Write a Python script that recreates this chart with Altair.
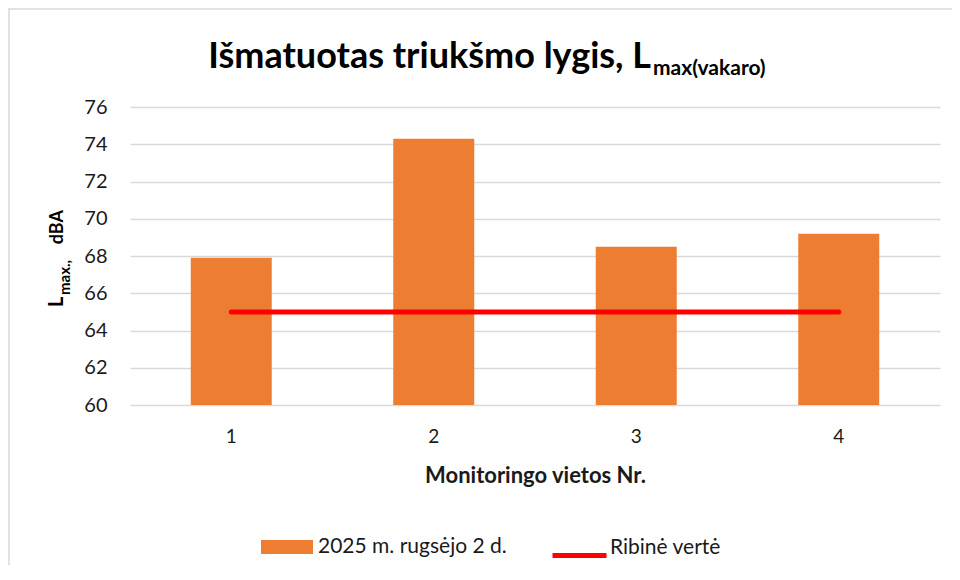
import altair as alt
import pandas as pd

# ---- data ----
sites = ["1", "2", "3", "4"]
measured = [67.9, 74.3, 68.5, 69.2]
limit = [65, 65, 65, 65]
series_bar = "2025 m. rugsėjo 2 d."
series_line = "Ribinė vertė"
y_ticks = [60, 62, 64, 66, 68, 70, 72, 74, 76]
title_main = ["Išmatuotas triukšmo lygis, L"]
title_sub = ["max(vakaro)"]
ytitle_main = ["L"]
ytitle_sub = ["max.,"]
ytitle_unit = ["dBA"]
xtitle = "Monitoringo vietos Nr."

FONT = "Lato"
TXT = "#1a1a1a"
W, H = 810, 298

bars_df = pd.DataFrame({"site": sites, "value": measured, "series": [series_bar] * len(sites)})
line_df = pd.DataFrame({"site": sites, "value": limit, "series": [series_line] * len(sites)})

x_enc = alt.X(
    "site:N", sort=sites,
    scale=alt.Scale(paddingInner=0.6, paddingOuter=0.3),
    axis=alt.Axis(title=xtitle, labelAngle=0, domain=False, ticks=False,
                  labelPadding=22, labelFont=FONT, labelFontSize=19, labelColor=TXT,
                  titleFont=FONT, titleFontSize=22, titleFontWeight="bold", titleColor=TXT,
                  titlePadding=19),
)
y_enc = alt.Y(
    "value:Q",
    scale=alt.Scale(domain=[60, 76], nice=False, zero=False),
    axis=alt.Axis(values=y_ticks, title=None, domain=False, ticks=False,
                  labelPadding=23, labelFont=FONT, labelFontSize=20, labelColor=TXT,
                  gridColor="#d9d9d9", gridWidth=1.5),
)

bars = alt.Chart(bars_df).mark_bar(color="#ED7D31", clip=True).encode(
    x=x_enc, y=y_enc,
    fill=alt.Fill("series:N", scale=alt.Scale(domain=[series_bar], range=["#ED7D31"]),
                  legend=alt.Legend(title=None, orient="none", legendX=131, legendY=414,
                                    symbolType="M-1,-0.27H1V0.27H-1Z", symbolSize=2704,
                                    symbolStrokeWidth=0, labelLimit=400,
                                    labelFont=FONT, labelFontSize=21, labelColor=TXT,
                                    labelOffset=5)),
)

line = alt.Chart(line_df).mark_line(strokeWidth=5, strokeCap="round").encode(
    x=x_enc, y=y_enc,
    stroke=alt.Stroke("series:N", scale=alt.Scale(domain=[series_line], range=["#FF0000"]),
                      legend=alt.Legend(title=None, orient="none", legendX=420, legendY=411,
                                        symbolType="M-1,0.3L1,0.3", symbolSize=2916,
                                        symbolStrokeWidth=5, labelLimit=400,
                                        labelFont=FONT, labelFontSize=21, labelColor=TXT,
                                        labelOffset=1)),
)

one = pd.DataFrame({"k": [0]})
border_v = alt.Chart(one).mark_rule(color="#d9d9d9", strokeWidth=1.5).encode(
    x=alt.value(-121), y=alt.value(-99), y2=alt.value(480))
border_h = alt.Chart(one).mark_rule(color="#d9d9d9", strokeWidth=1.5).encode(
    x=alt.value(-121), x2=alt.value(830), y=alt.value(-98))

t_main = alt.Chart(pd.DataFrame({"t": title_main})).mark_text(
    align="right", baseline="alphabetic", font=FONT, fontSize=36, fontWeight="bold", color="#000"
).encode(text="t:N", x=alt.value(521), y=alt.value(-39))
t_sub = alt.Chart(pd.DataFrame({"t": title_sub})).mark_text(
    align="left", baseline="alphabetic", font=FONT, fontSize=21, fontWeight="bold", color="#000"
).encode(text="t:N", x=alt.value(523), y=alt.value(-32))

y_l = alt.Chart(pd.DataFrame({"t": ytitle_main})).mark_text(
    align="left", baseline="alphabetic", angle=270, font=FONT, fontSize=20, fontWeight="bold", color="#000"
).encode(text="t:N", x=alt.value(-67), y=alt.value(200))
y_s = alt.Chart(pd.DataFrame({"t": ytitle_sub})).mark_text(
    align="left", baseline="alphabetic", angle=270, font=FONT, fontSize=15, fontWeight="bold", color="#000"
).encode(text="t:N", x=alt.value(-60), y=alt.value(188))
y_u = alt.Chart(pd.DataFrame({"t": ytitle_unit})).mark_text(
    align="right", baseline="alphabetic", angle=270, font=FONT, fontSize=18, fontWeight="bold", color="#000"
).encode(text="t:N", x=alt.value(-67), y=alt.value(103))

chart = alt.layer(border_v, border_h, bars, line, t_main, t_sub, y_l, y_s, y_u).properties(
    width=W, height=H,
    padding={"left": 122, "top": 99, "right": 12, "bottom": 160},
    autosize=alt.AutoSizeParams(type="none"),
).configure_view(strokeWidth=0).resolve_scale(fill="independent", stroke="independent")

chart.save("out.html", embed_options={"renderer": "svg", "actions": False})
